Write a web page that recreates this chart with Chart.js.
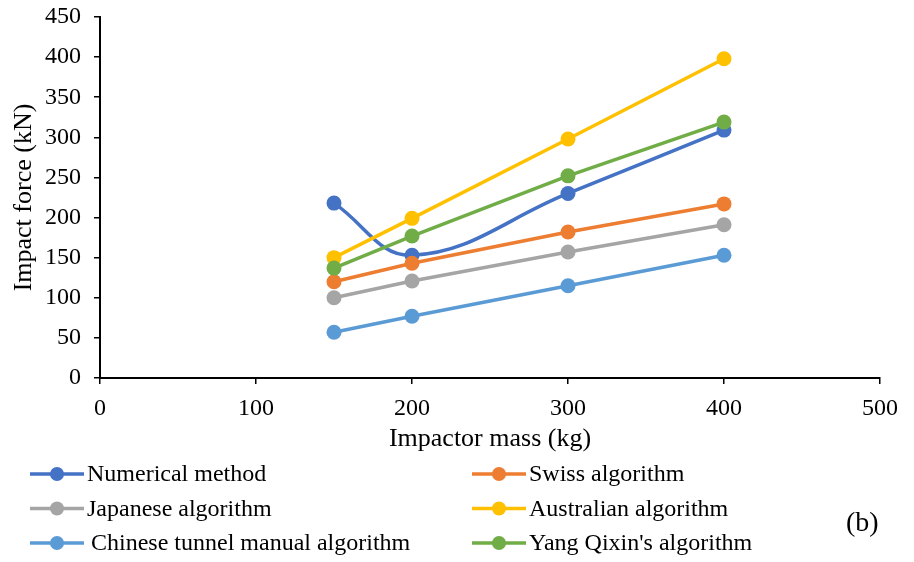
<!DOCTYPE html>
<html>
<head>
<meta charset="utf-8">
<script src="https://cdn.jsdelivr.net/npm/chart.js@4.4.0/dist/chart.umd.min.js"></script>
<style>
  html, body { margin: 0; padding: 0; background: #fff; }
  #wrap { width: 914px; height: 562px; position: relative; }
</style>
</head>
<body>
<div id="wrap"><canvas id="myChart"></canvas></div>
<script>
var masses = [150, 200, 300, 400];
var seriesNames = ["Numerical method", "Swiss algorithm", "Japanese algorithm",
  "Australian algorithm", "Chinese tunnel manual algorithm", "Yang Qixin's algorithm"];
var numerical = [218, 153, 230, 309];
var swiss = [120, 143, 182, 217];
var japanese = [100, 121, 157, 191];
var australian = [150, 199, 298, 398];
var chinese = [57, 77, 115, 153];
var yang = [137, 177, 252, 319];
var lineColors = ["#4472C4", "#ED7D31", "#A5A5A5", "#FFC000", "#5B9BD5", "#70AD47"];
var xTicks = [0, 100, 200, 300, 400, 500];

var allValues = [numerical, swiss, japanese, australian, chinese, yang];
var serif = "'Liberation Serif', 'Times New Roman', serif";

var datasets = allValues.map(function (vals, i) {
  return {
    label: seriesNames[i],
    data: masses.map(function (m, j) { return { x: m, y: vals[j] }; }),
    borderColor: lineColors[i],
    backgroundColor: lineColors[i],
    borderWidth: 3.5,
    pointRadius: 7.5,
    pointHoverRadius: 7.5,
    pointBorderWidth: 0,
    tension: i === 0 ? 0.4 : 0, // only the numerical curve is smoothed
    order: 6 - i,
    fill: false
  };
});

// legend drawn under the axes, two columns
var bottomLegend = {
  id: "bottomLegend",
  afterDraw: function (chart) {
    var ctx = chart.ctx;
    ctx.save();
    ctx.font = "24px " + serif;
    ctx.textBaseline = "middle";
    ctx.textAlign = "left";
    chart.data.datasets.forEach(function (ds, i) {
      var col = i % 2, row = Math.floor(i / 2);
      var x0 = col === 0 ? 30 : 472;
      var y = 474 + row * 34.5;
      ctx.strokeStyle = ds.borderColor;
      ctx.lineWidth = 3.5;
      ctx.beginPath();
      ctx.moveTo(x0, y);
      ctx.lineTo(x0 + 54, y);
      ctx.stroke();
      ctx.fillStyle = ds.borderColor;
      ctx.beginPath();
      ctx.arc(x0 + 27, y, 7, 0, Math.PI * 2);
      ctx.fill();
      ctx.fillStyle = "#000";
      ctx.fillText(ds.label, x0 + 57 + (i === 4 ? 4 : 0), y + 1);
    });
    ctx.font = "28px " + serif;
    ctx.fillText("(b)", 846, 524);
    ctx.restore();
  }
};

new Chart("myChart", {
  type: "line",
  data: { datasets: datasets },
  options: {
    responsive: true,
    maintainAspectRatio: false,
    animation: false,
    layout: { padding: { top: 17, right: 34, bottom: 107, left: 0 } },
    plugins: { legend: { display: false }, tooltip: { enabled: false } },
    scales: {
      x: {
        type: "linear",
        min: 0, max: 500,
        afterBuildTicks: function (axis) {
          axis.ticks = xTicks.map(function (v) { return { value: v }; });
        },
        afterFit: function (axis) {
          axis.height = 77;
          axis.paddingLeft = 0;
          axis.paddingRight = 0;
        },
        grid: { drawOnChartArea: false, drawTicks: true, tickLength: 6, color: "#000", lineWidth: 1.5 },
        border: { display: true, color: "#000", width: 2 },
        ticks: { color: "#000", font: { family: serif, size: 24 }, padding: 10, maxRotation: 0 },
        title: { display: true, text: "Impactor mass (kg)", color: "#000",
          font: { family: serif, size: 26 }, padding: { top: 4, bottom: 0 } }
      },
      y: {
        min: 0, max: 450,
        ticks: { stepSize: 50, color: "#000", font: { family: serif, size: 24 }, padding: 13 },
        afterFit: function (axis) {
          axis.width = 100;
          axis.paddingTop = 0;
          axis.paddingBottom = 0;
        },
        grid: { drawOnChartArea: false, drawTicks: true, tickLength: 6, color: "#000", lineWidth: 1.5 },
        border: { display: true, color: "#000", width: 2 },
        title: { display: true, text: "Impact force (kN)", color: "#000",
          font: { family: serif, size: 26 }, padding: { top: 9, bottom: 0 } }
      }
    }
  },
  plugins: [bottomLegend]
});
</script>
</body>
</html>
